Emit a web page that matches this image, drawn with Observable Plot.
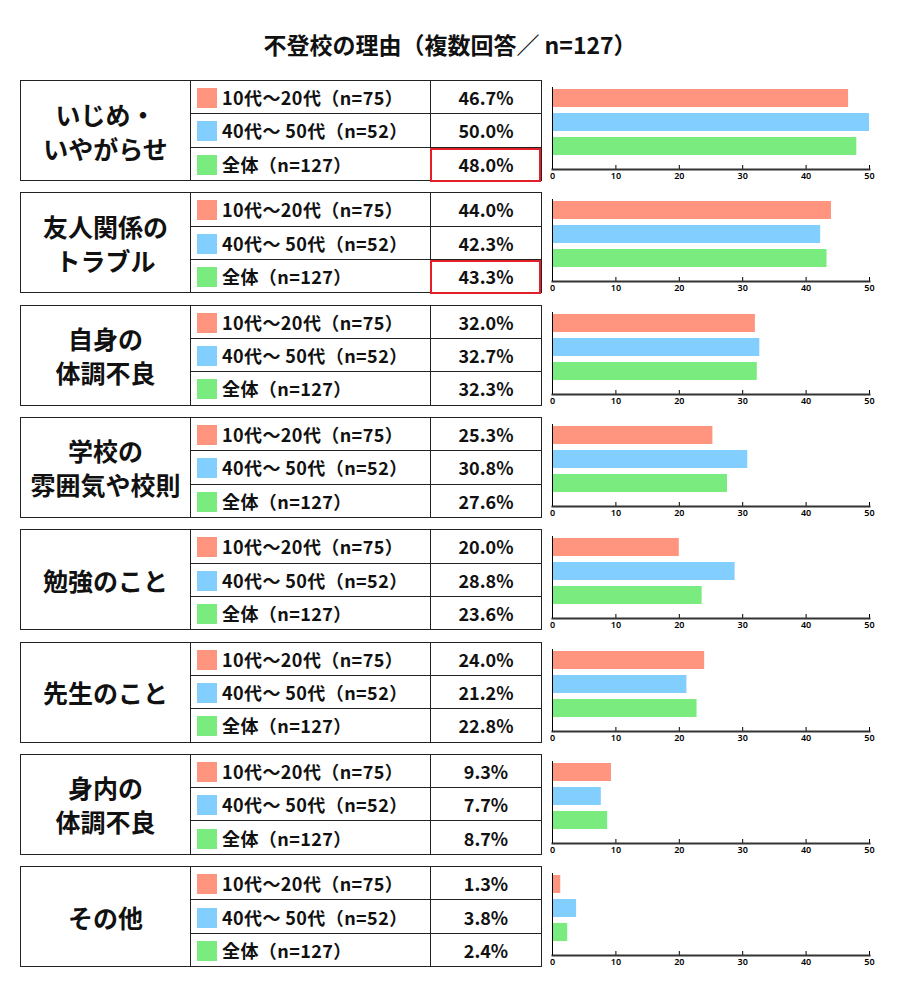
<!DOCTYPE html>
<html><head><meta charset="utf-8">
<script src="https://cdn.jsdelivr.net/npm/d3@7"></script>
<script src="https://cdn.jsdelivr.net/npm/@observablehq/plot@0.6"></script>
<style>
body{margin:0;background:#fff;font-family:"Noto Sans CJK JP","Noto Sans",sans-serif;color:#111;}
#root{position:relative;width:900px;height:1000px;}
.title{position:absolute;top:29px;left:0;width:900px;text-align:center;font-weight:700;font-size:23px;line-height:30px;}
table{position:absolute;left:20px;width:521px;height:101px;border-collapse:collapse;table-layout:fixed;}
td{border:1px solid #222;padding:0;}
td.cat{font-size:25px;font-weight:700;text-align:center;line-height:34px;}
td.lab{font-size:18px;font-weight:700;white-space:nowrap;letter-spacing:0.4px;}
td.val{font-size:18px;font-weight:700;text-align:center;}
.sw{display:inline-block;width:20px;height:20px;vertical-align:-3px;margin:0 5px 0 6px;}
.hl{position:absolute;box-sizing:border-box;border:2.5px solid #e3202a;}
.chart{position:absolute;left:540px;}
</style></head>
<body><div id="root"><div class="title">不登校の理由（複数回答／ n=127）</div></div>
<script>
const categories = ["いじめ・\nいやがらせ", "友人関係の\nトラブル", "自身の\n体調不良", "学校の\n雰囲気や校則", "勉強のこと", "先生のこと", "身内の\n体調不良", "その他"];
const series = ["10代〜20代（n=75）", "40代〜 50代（n=52）", "全体（n=127）"];
const teens20s = [46.7, 44.0, 32.0, 25.3, 20.0, 24.0, 9.3, 1.3];
const forties50s = [50.0, 42.3, 32.7, 30.8, 28.8, 21.2, 7.7, 3.8];
const overall = [48.0, 43.3, 32.3, 27.6, 23.6, 22.8, 8.7, 2.4];
const highlighted = [true, true, false, false, false, false, false, false];
const xTicks = [0, 10, 20, 30, 40, 50];

const colors = ["#ff957f", "#82cfff", "#7aeb7e"];
const root = document.getElementById("root");
const seriesValues = [teens20s, forties50s, overall];

categories.forEach((cat, i) => {
  const top = 80 + i * 112.3;
  const table = document.createElement("table");
  table.style.top = top + "px";
  const colg = document.createElement("colgroup");
  [170, 240, 111].forEach(w => { const c = document.createElement("col"); c.style.width = w + "px"; colg.appendChild(c); });
  table.appendChild(colg);
  series.forEach((s, j) => {
    const tr = document.createElement("tr");
    if (j === 0) {
      const td = document.createElement("td");
      td.className = "cat"; td.rowSpan = 3;
      td.innerHTML = cat.split("\n").join("<br>");
      tr.appendChild(td);
    }
    const lab = document.createElement("td");
    lab.className = "lab";
    lab.innerHTML = `<span class="sw" style="background:${colors[j]}"></span>${s}`;
    tr.appendChild(lab);
    const val = document.createElement("td");
    val.className = "val";
    val.textContent = seriesValues[j][i].toFixed(1) + "%";
    tr.appendChild(val);
    table.appendChild(tr);
  });
  root.appendChild(table);
  if (highlighted[i]) {
    const hl = document.createElement("div");
    hl.className = "hl";
    Object.assign(hl.style, {left: "430px", top: (top + 68) + "px", width: "111px", height: "34px"});
    root.appendChild(hl);
  }

  const data = series.map((s, j) => ({series: s, value: seriesValues[j][i]}));
  const chart = Plot.plot({
    width: 345, height: 101,
    marginLeft: 12, marginRight: 16, marginTop: 7, marginBottom: 12,
    style: {fontSize: "9px", fontWeight: "600", fontFamily: "'Noto Sans', sans-serif", color: "#000", background: "transparent"},
    x: {domain: [0, 50], ticks: xTicks, tickFormat: d => d, label: null},
    y: {domain: series, range: [6, 78], paddingInner: 0.25, paddingOuter: 0.125, axis: null},
    color: {domain: series, range: colors},
    marks: [
      Plot.barX(data, {x: "value", y: "series", fill: "series"}),
      Plot.ruleX(xTicks.slice(1), {insetTop: 78, stroke: "#000"}),
      Plot.frame({anchor: "bottom", stroke: "#333", strokeWidth: 2}),
      Plot.ruleX([0], {stroke: "#000"}),
      Plot.axisX({tickSize: 0, tickPadding: 3, ticks: xTicks, tickFormat: d => d, label: null})
    ]
  });
  chart.classList.add("chart");
  chart.style.top = top + "px";
  root.appendChild(chart);
});
</script></body></html>
